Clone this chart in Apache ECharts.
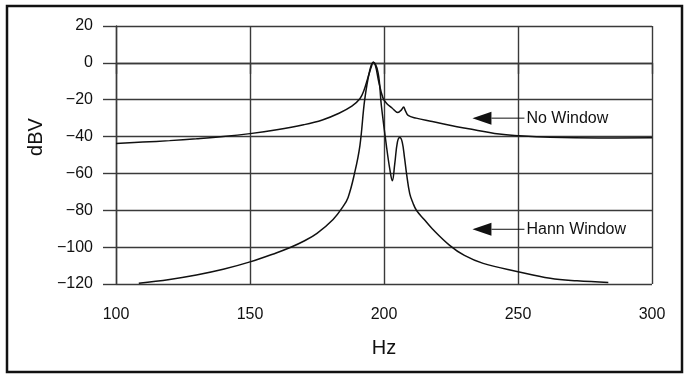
<!DOCTYPE html>
<html>
<head>
<meta charset="utf-8">
<script src="https://cdn.jsdelivr.net/npm/echarts@6/dist/echarts.min.js"></script>
<style>html,body{margin:0;padding:0;background:#fff}#c{width:689px;height:379px}</style>
</head>
<body>
<div id="c"></div>
<script>
// X axis ticks (Hz) and Y axis ticks (dBV)
var xTicks = [100, 150, 200, 250, 300];
var yTicks = [-120, -100, -80, -60, -40, -20, 0, 20];

// No Window series: frequency (Hz) and level (dBV)
var noWinHz = [100, 110, 120, 130, 140, 150, 160, 170, 177, 183, 188, 191, 192.5, 194, 195.3, 196, 196.8, 198, 199.6, 201, 203, 205.2, 206.5, 207.3, 208, 209, 212, 218, 225, 231, 243, 250, 262, 280, 300];
var noWinDb = [-43.8, -43.0, -42.2, -41.2, -40.0, -38.4, -36.3, -33.6, -31.0, -27.5, -23.5, -19.5, -15, -8, -2, 0.3, -1.5, -10, -19, -22, -24.5, -27, -25.5, -24, -26, -28.5, -30, -31.8, -34, -35.6, -38.6, -39.5, -40.4, -40.8, -40.6];

// Hann Window series
var hannHz = [108.5, 120, 130, 140, 150, 160, 165, 170, 175, 181, 184.7, 186.6, 189, 191, 192.8, 194.7, 196, 197.8, 199, 200.9, 202.2, 203.1, 204, 205, 205.9, 206.8, 207.7, 208.4, 209.6, 210.8, 212.1, 215, 218, 224.5, 230, 237, 250, 262, 272, 283.7];
var hannDb = [-119.6, -117.5, -115.1, -112, -108, -103, -100.2, -96.8, -92.5, -85, -78, -73, -60, -45, -20, -4, 0.3, -5.5, -23, -45, -58, -64, -55, -43, -40.5, -43, -52, -60, -71, -76, -80, -85, -90, -99, -104.5, -108.8, -113.3, -116.9, -118.3, -119.2];

// Annotation labels
var labels = [
  {text: 'No Window', hz: 233, db: -30},
  {text: 'Hann Window', hz: 233, db: -90.3}
];

function pairs(xs, ys) { return xs.map(function (x, i) { return [x, ys[i]]; }); }

var chart = echarts.init(document.getElementById('c'), null, {renderer: 'canvas'});
var font = '"Liberation Sans", Arial, sans-serif';
var gridColor = '#3a3a3a';

chart.setOption({
  animation: false,
  backgroundColor: '#fff',
  grid: {left: 116, right: 37, top: 26, bottom: 95},
  xAxis: {
    type: 'value', min: xTicks[0], max: xTicks[xTicks.length - 1], interval: 50,
    name: 'Hz', nameLocation: 'middle', nameGap: 54,
    nameTextStyle: {fontFamily: font, fontSize: 20, color: '#111'},
    axisLine: {show: true, lineStyle: {color: gridColor, width: 1.4}},
    axisTick: {show: true, length: 11, lineStyle: {color: gridColor, width: 1.4}},
    axisLabel: {fontFamily: font, fontSize: 16, color: '#111', margin: 23},
    splitLine: {show: true, lineStyle: {color: gridColor, width: 1.4}}
  },
  yAxis: {
    type: 'value', min: yTicks[0], max: yTicks[yTicks.length - 1], interval: 20,
    axisLine: {show: true, lineStyle: {color: gridColor, width: 1.4}},
    axisTick: {show: true, length: 13, lineStyle: {color: gridColor, width: 1.4}},
    axisLabel: {fontFamily: font, fontSize: 16, color: '#111', margin: 23,
      formatter: function (v) { return String(v).replace('-', '\u2212'); }},
    splitLine: {show: true, lineStyle: {color: gridColor, width: 1.4}}
  },
  series: [
    {name: 'No Window', type: 'line', data: pairs(noWinHz, noWinDb), showSymbol: false,
     smooth: 0.4, lineStyle: {color: '#111', width: 1.5}},
    {name: 'Hann Window', type: 'line', data: pairs(hannHz, hannDb), showSymbol: false,
     smooth: 0.4, lineStyle: {color: '#111', width: 1.5}}
  ]
});

var g = [
  {type: 'rect', shape: {x: 7, y: 6, width: 675, height: 366},
   style: {fill: 'none', stroke: '#111', lineWidth: 2.5}, z: 10},
  {type: 'text', x: 36, y: 137, rotation: Math.PI / 2,
   style: {text: 'dBV', font: '20px ' + font, fill: '#111', textAlign: 'center', textVerticalAlign: 'middle'}}
];
labels.forEach(function (l) {
  var p = chart.convertToPixel({gridIndex: 0}, [l.hz, l.db]);
  var x = p[0], y = p[1];
  g.push({type: 'polygon', shape: {points: [[x, y], [x + 19, y - 6.5], [x + 19, y + 6.5]]},
          style: {fill: '#111'}, z: 10});
  g.push({type: 'line', shape: {x1: x + 19, y1: y, x2: x + 52, y2: y},
          style: {stroke: '#111', lineWidth: 1}, z: 10});
  g.push({type: 'text', x: x + 54, y: y,
          style: {text: l.text, font: '16px ' + font, fill: '#111', textVerticalAlign: 'middle'}, z: 10});
});
chart.setOption({graphic: g});
</script>
</body>
</html>
